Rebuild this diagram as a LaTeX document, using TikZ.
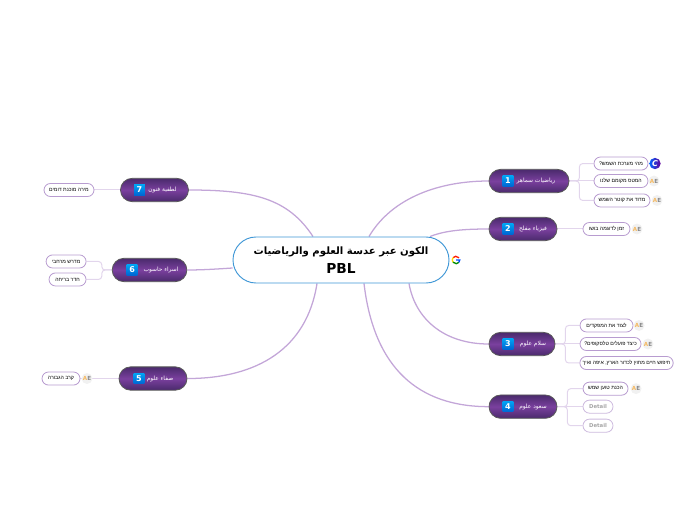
\documentclass[tikz,border=0pt]{standalone}
\usepackage{fontspec}
\usepackage{xcolor}
\usepackage{tikz}
\usetikzlibrary{arrows.meta,positioning,calc,shapes.misc,backgrounds}
\TeXXeTstate=1
\setmainfont{DejaVu Sans}
\newfontfamily\arabicfont[Script=Arabic]{DejaVu Sans}
\newfontfamily\hebrewfont[Script=Hebrew]{Liberation Sans}
\definecolor{branchline}{HTML}{C3A6D8}
\definecolor{subline}{HTML}{E2D5EC}
\definecolor{subborder}{HTML}{B89CD0}
\definecolor{topicdark}{HTML}{4A2A6C}
\definecolor{topicmid}{HTML}{7A409E}
\definecolor{centerline}{HTML}{3F97D6}
\definecolor{badgetop}{HTML}{00A4F4}
\definecolor{badgebottom}{HTML}{0064D2}
\definecolor{aebg}{HTML}{F1F1F1}
\definecolor{aeorange}{HTML}{F4B860}
\definecolor{aegray}{HTML}{888888}

\begin{document}
\begin{tikzpicture}[
  x=0.75pt, y=-0.75pt, on grid,
  central/.style={draw=centerline, line width=0.7pt, rounded rectangle, fill=white, minimum width=162pt, minimum height=34.5pt, inner sep=0pt, align=center, font=\bfseries\fontsize{10.3}{14}\selectfont},
  topic/.style={draw=black!65, line width=0.6pt, rounded rectangle, top color=topicdark, bottom color=topicdark, middle color=topicmid, minimum height=17.5pt, inner sep=0pt},
  badge/.style={top color=badgetop, bottom color=badgebottom, minimum size=8pt, inner sep=0pt, text=white, font=\bfseries\fontsize{6}{6}\selectfont},
  topiclabel/.style={text=white, inner sep=0pt, font=\fontsize{4.4}{5}\selectfont\arabicfont},
  leaf/.style={draw=subborder, line width=0.6pt, rounded rectangle, fill=white, minimum height=9.8pt, inner sep=0pt, font=\fontsize{3.9}{5}\selectfont\hebrewfont},
  detail/.style={leaf, draw=subborder!70, text=black!35, font=\bfseries\fontsize{4}{5}\selectfont},
  aeicon/.style={circle, fill=aebg, minimum size=8.2pt, inner sep=0pt, font=\bfseries\fontsize{4.2}{4}\selectfont},
  branch/.style={draw=branchline, line width=0.95pt},
  twig/.style={draw=subline, line width=0.75pt, rounded corners=2.5pt}
]
  \useasboundingbox (0,0) rectangle (697,520);

  \node[central] at (341,260) (core) {{\arabicfont\fontsize{7.6}{14}\selectfont\beginR الكون عبر عدسة العلوم والرياضيات\endR}\\PBL};
  \node[right=86.25pt of core, minimum size=7pt, inner sep=0pt] (google) {};
  \draw[red!80!orange, line width=1pt] (google.center) ++(35:2.8pt) arc[start angle=35, end angle=140, radius=2.8pt];
  \draw[yellow!80!orange, line width=1pt] (google.center) ++(140:2.8pt) arc[start angle=140, end angle=215, radius=2.8pt];
  \draw[green!55!black, line width=1pt] (google.center) ++(215:2.8pt) arc[start angle=215, end angle=320, radius=2.8pt];
  \draw[blue!70!cyan, line width=1pt] (google.center) -- ++(2.8pt,0) arc[start angle=0, end angle=-40, radius=2.8pt];

  % right side
  \node[topic, minimum width=60pt, above right=59.25pt and 141pt of core] (rimah) {};
  \node[topic, minimum width=51pt, above right=23.25pt and 136.5pt of core] (mufleh) {};
  \node[topic, minimum width=49.5pt, below right=63pt and 135.75pt of core] (salam) {};
  \node[topic, minimum width=51pt, below right=110pt and 136.5pt of core] (saud) {};
  % left side
  \node[topic, minimum width=51pt, above left=52.5pt and 139.9pt of core] (lutfia) {};
  \node[topic, minimum width=56pt, below left=7.5pt and 143.6pt of core] (israa) {};
  \node[topic, minimum width=51pt, below left=88.9pt and 141pt of core] (safaa) {};

  \node[badge, left=15.75pt of rimah] (b1) {1};
  \node[badge, left=11.25pt of mufleh] (b2) {2};
  \node[badge, left=10.5pt of salam] (b3) {3};
  \node[badge, left=11.25pt of saud] (b4) {4};
  \node[badge, left=10.5pt of safaa] (b5) {5};
  \node[badge, left=13.1pt of israa] (b6) {6};
  \node[badge, left=11.25pt of lutfia] (b7) {7};

  \node[topiclabel, right=21pt of b1] (t1) {\beginR رياضيات سماهر\endR};
  \node[topiclabel, right=18.75pt of b2] (t2) {\beginR فيزياء مفلح\endR};
  \node[topiclabel, right=18.75pt of b3] (t3) {\beginR سلام علوم\endR};
  \node[topiclabel, right=18.75pt of b4] (t4) {\beginR سعود علوم\endR};
  \node[topiclabel, right=15.75pt of b5] (t5) {\beginR صفاء علوم\endR};
  \node[topiclabel, right=21.75pt of b6] (t6) {\beginR اسراء حاسوب\endR};
  \node[topiclabel, right=17.25pt of b7] (t7) {\beginR لطفية فنون\endR};

  \node[leaf, minimum width=40.5pt, above right=13.1pt and 69pt of rimah] (q11) {\beginR מהי מערכת השמש?\endR};
  \node[leaf, minimum width=40.5pt, right=69pt of rimah] (q12) {\beginR המטס מקומם שלנו\endR};
  \node[leaf, minimum width=42pt, below right=14.6pt and 69.75pt of rimah] (q13) {\beginR מדוד את קוטר השמש\endR};
  \node[leaf, minimum width=35.25pt, right=62.6pt of mufleh] (q21) {\beginR זמן לדוגמה בושו\endR};
  \node[leaf, minimum width=39.75pt, above right=13.9pt and 63.4pt of salam] (q31) {\beginR לצוד את המפקדים\endR};
  \node[leaf, minimum width=45.75pt, right=66.4pt of salam] (q32) {\beginR כיצד פועלים טלסקופים?\endR};
  \node[leaf, minimum width=70pt, below right=14.25pt and 78.4pt of salam] (q33) {\beginR חיפוש חיים מחוץ לכדור הארץ, איפה ואיך\endR};
  \node[leaf, minimum width=33.75pt, above right=13.5pt and 61.9pt of saud] (q41) {\beginR הכנת טוען שמש\endR};
  \node[detail, minimum width=22.5pt, right=56.25pt of saud] (q42) {Detail};
  \node[detail, minimum width=22.5pt, below right=14.25pt and 56.25pt of saud] (q43) {Detail};
  \node[leaf, minimum width=28.5pt, left=69pt of safaa] (q51) {\beginR קרב הגבורה\endR};
  \node[leaf, minimum width=30pt, above left=6.4pt and 62.6pt of israa] (q61) {\beginR מדרש מרחבי\endR};
  \node[leaf, minimum width=27.75pt, below left=7.1pt and 61.5pt of israa] (q62) {\beginR חדר בריחה\endR};
  \node[leaf, minimum width=37.5pt, left=64.1pt of lutfia] (q71) {\beginR מירה מוכנת דומים\endR};

  \node[circle, left color=blue!60!cyan, right color=violet!80!blue, text=white, minimum size=8.5pt, inner sep=0pt, font=\itshape\bfseries\fontsize{6}{6}\selectfont, right=25.5pt of q11] (canva) {C};
  \node[aeicon, right=24.75pt of q12] (ae12) {\textcolor{aeorange}{A}\textcolor{aegray}{E}};
  \node[aeicon, right=26.25pt of q13] (ae13) {\textcolor{aeorange}{A}\textcolor{aegray}{E}};
  \node[aeicon, right=22.9pt of q21] (ae21) {\textcolor{aeorange}{A}\textcolor{aegray}{E}};
  \node[aeicon, right=24.4pt of q31] (ae31) {\textcolor{aeorange}{A}\textcolor{aegray}{E}};
  \node[aeicon, right=28.1pt of q32] (ae32) {\textcolor{aeorange}{A}\textcolor{aegray}{E}};
  \node[aeicon, right=22.9pt of q41] (ae41) {\textcolor{aeorange}{A}\textcolor{aegray}{E}};
  \node[aeicon, right=19.5pt of q51] (ae51) {\textcolor{aeorange}{A}\textcolor{aegray}{E}};

  \begin{scope}[on background layer]
    \draw[branch] ([xshift=21pt]core.north) .. controls +(23,-39) and +(-49,0) .. (rimah.west);
    \draw[branch] ([xshift=66.75pt]core.north) .. controls +(15,-6) and +(-25,0) .. (mufleh.west);
    \draw[branch] ([xshift=51pt]core.south) .. controls +(6,35) and +(-45,0) .. (salam.west);
    \draw[branch] ([xshift=17.25pt]core.south) .. controls +(10,85) and +(-70,0) .. (saud.west);
    \draw[branch] ([xshift=-21pt]core.north) .. controls +(-25,-38) and +(65,0) .. (lutfia.east);
    \draw[branch] ([yshift=-6pt]core.west) .. controls +(-15,1) and +(15,0) .. (israa.east);
    \draw[branch] ([xshift=-18pt]core.south) .. controls +(-10,65) and +(70,0) .. (safaa.east);

    \draw[twig] (rimah.east) -- ++(10,0) |- (q11.west);
    \draw[twig] (rimah.east) -- (q12.west);
    \draw[twig] (rimah.east) -- ++(10,0) |- (q13.west);
    \draw[twig] (mufleh.east) -- (q21.west);
    \draw[twig] (salam.east) -- ++(10,0) |- (q31.west);
    \draw[twig] (salam.east) -- (q32.west);
    \draw[twig] (salam.east) -- ++(10,0) |- (q33.west);
    \draw[twig] (saud.east) -- ++(10,0) |- (q41.west);
    \draw[twig] (saud.east) -- (q42.west);
    \draw[twig] (saud.east) -- ++(10,0) |- (q43.west);
    \draw[twig] (safaa.west) -- (q51.east);
    \draw[twig] (israa.west) -- ++(-10,0) |- (q61.east);
    \draw[twig] (israa.west) -- ++(-10,0) |- (q62.east);
    \draw[twig] (lutfia.west) -- (q71.east);
  \end{scope}
\end{tikzpicture}
\end{document}
